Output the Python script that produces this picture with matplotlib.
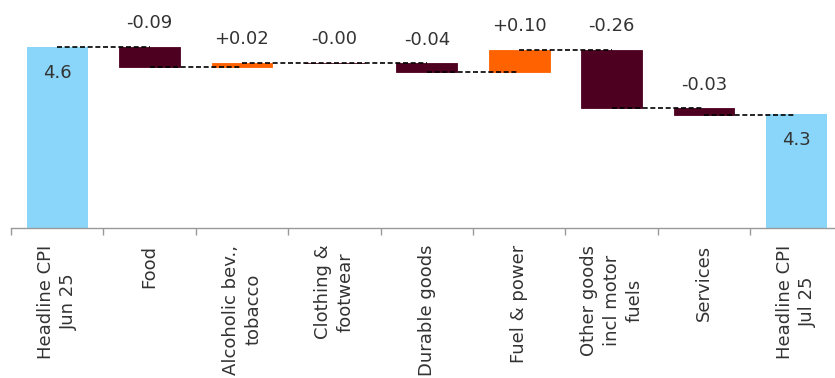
import numpy as np
import matplotlib
matplotlib.use("Agg")
import matplotlib.pyplot as plt

categories = ["Headline CPI\nJun 25", "Food", "Alcoholic bev.,\ntobacco",
              "Clothing &\nfootwear", "Durable goods", "Fuel & power",
              "Other goods\nincl motor\nfuels", "Services", "Headline CPI\nJul 25"]
start_value = 4.6
end_value = 4.3
changes = [-0.09, 0.02, -0.004, -0.04, 0.10, -0.26, -0.03]

blue = "#89D6FA"
maroon = "#4D0020"
orange = "#FF6200"
txt = "#333333"

fig = plt.figure(figsize=(8.35, 3.78), dpi=100)
ax = fig.add_axes([11 / 835, 0.397, 831.6 / 835, 0.603])

# running level after each change
levels = [start_value]
for c in changes:
    levels.append(levels[-1] + c)

x = np.arange(len(categories))
w = 0.66
ymin = 3.79

# first and last bars
ax.bar(0, start_value - ymin, bottom=ymin, width=w, color=blue, zorder=2)
ax.bar(8, end_value - ymin, bottom=ymin, width=w, color=blue, zorder=2)
for xi, v in [(0, start_value), (8, end_value)]:
    ax.annotate(f"{v:.1f}", (xi, v), xytext=(0, -19), textcoords="offset points",
                ha="center", va="center", fontsize=13, color=txt)

for i, c in enumerate(changes):
    xi = i + 1
    lo = levels[i]
    col = orange if c > 0 else maroon
    ax.bar(xi, c, bottom=lo, width=w, color=col, edgecolor=col,
           linewidth=0.6, zorder=2)
    top = max(lo, lo + c)
    ax.annotate(f"{c:+.2f}", (xi, top), xytext=(0, 17), textcoords="offset points",
                ha="center", va="center", fontsize=13, color=txt)

# dashed connectors
for i in range(len(levels)):
    ax.plot([i, i + 1], [levels[i], levels[i]], color="black", lw=1.2,
            dashes=(3, 1.6), zorder=3)

ax.set_xlim(-0.5, 8.5)
ax.set_ylim(ymin, 4.81)
for s in ["top", "right", "left"]:
    ax.spines[s].set_visible(False)
ax.spines["bottom"].set_color("#999999")
ax.spines["bottom"].set_linewidth(1.0)
ax.set_yticks([])
ax.set_xticks(x)
ax.set_xticklabels(categories, rotation=90, fontsize=13, color=txt,
                   linespacing=1.35, ha="center", va="top")
ax.set_xticks(np.arange(-0.5, 9, 1), minor=True)
ax.tick_params(axis="x", which="major", length=0, pad=12)
ax.tick_params(axis="x", which="minor", length=5, color="#999999", width=1.0)

fig.savefig("out.png", dpi=100)
